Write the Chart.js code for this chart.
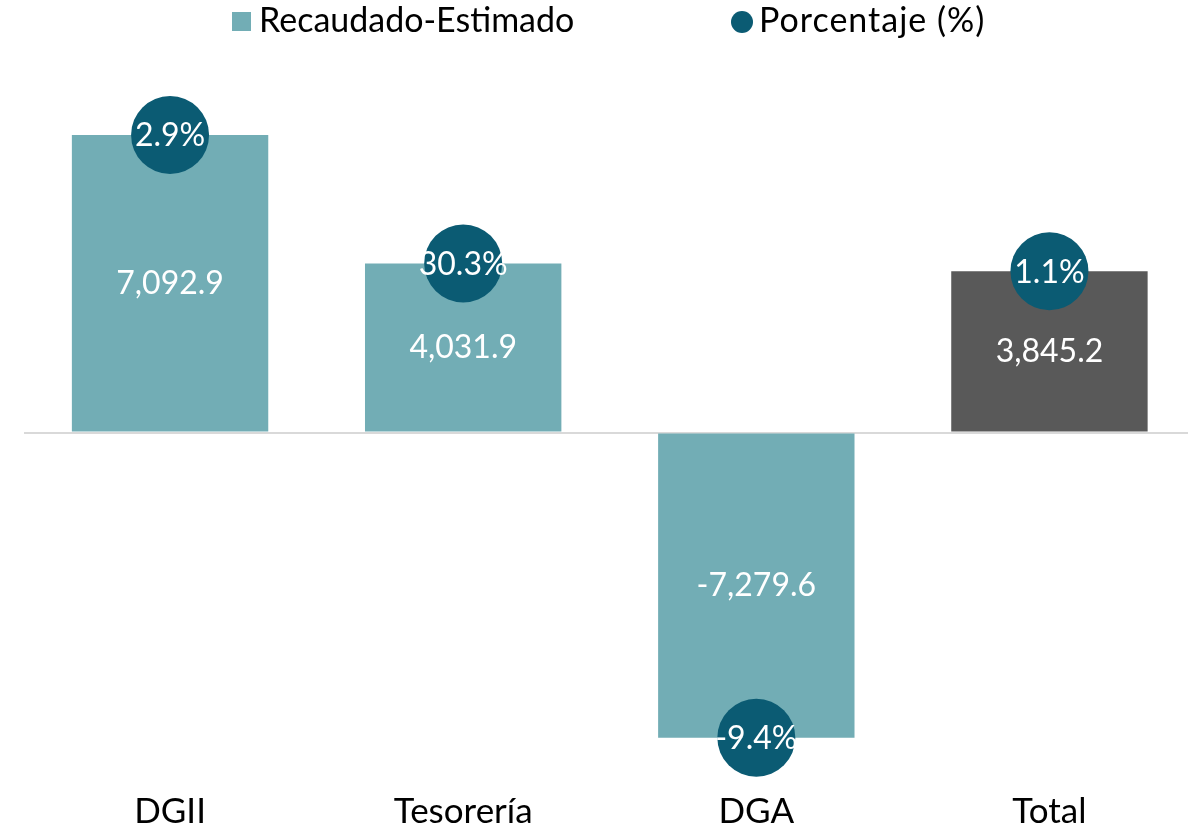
<!DOCTYPE html>
<html>
    <head>
        <title>Recaudado vs Estimado</title>
        <script src="https://cdn.jsdelivr.net/npm/chart.js@4.4.0/dist/chart.umd.min.js"></script>
        <style>
            body { margin: 0; overflow: hidden; background: #fff; }
            .wrap { position: relative; width: 1196px; height: 829px; }
        </style>
    </head>
    <body>
        <div class="wrap">
            <canvas id="chartnya"></canvas>
        </div>
    </body>
    <script>
        // data
        const categories = ['DGII', 'Tesorería', 'DGA', 'Total'];
        const diferencias = [7092.9, 4031.9, -7279.6, 3845.2];
        const porcentajes = [2.9, 30.3, -9.4, 1.1];
        const seriesNames = ['Recaudado-Estimado', 'Porcentaje (%)'];

        const barColor = '#72adb5';
        const totalColor = '#595959';
        const dotColor = '#0b5b73';
        const fontFam = 'Lato, "Open Sans", sans-serif';

        function fmt(v) {
            return v.toLocaleString('en-US', {minimumFractionDigits: 1, maximumFractionDigits: 1});
        }

        // draw values on bars and circles, plus the legend
        const labelPlugin = {
            id: 'labelPlugin',
            afterDatasetsDraw(chart) {
                const ctx = chart.ctx;
                ctx.save();
                ctx.fillStyle = '#fff';
                ctx.textAlign = 'center';
                ctx.textBaseline = 'middle';
                ctx.font = '32px ' + fontFam;
                const bars = chart.getDatasetMeta(0).data;
                bars.forEach((bar, i) => {
                    const mid = (bar.y + bar.base) / 2;
                    ctx.fillText(fmt(diferencias[i]), bar.x, mid);
                });
                const dots = chart.getDatasetMeta(1).data;
                dots.forEach((pt, i) => {
                    ctx.fillText(porcentajes[i].toFixed(1) + '%', pt.x, pt.y + 1);
                });
                ctx.restore();
            },
            afterDraw(chart) {
                const ctx = chart.ctx;
                ctx.save();
                ctx.font = '34px ' + fontFam;
                ctx.textBaseline = 'middle';
                ctx.textAlign = 'left';
                // square item
                ctx.fillStyle = barColor;
                ctx.fillRect(232, 12, 19, 19);
                ctx.fillStyle = '#000';
                ctx.fillText(seriesNames[0], 259, 21);
                // circle item
                ctx.fillStyle = dotColor;
                ctx.beginPath();
                ctx.arc(742, 22, 11, 0, Math.PI * 2);
                ctx.fill();
                ctx.fillStyle = '#000';
                ctx.letterSpacing = '1px';
                ctx.fillText(seriesNames[1], 759, 21);
                ctx.restore();
            }
        };

        const ctx1 = document.getElementById('chartnya').getContext('2d');
        const chartnya = new Chart(ctx1, {
            type: 'bar',
            data: {
                labels: categories,
                datasets: [{
                    label: seriesNames[0],
                    data: diferencias,
                    backgroundColor: diferencias.map((v, i) => i === categories.length - 1 ? totalColor : barColor),
                    categoryPercentage: 1,
                    barPercentage: 0.67,
                    order: 1
                }, {
                    type: 'line',
                    label: seriesNames[1],
                    data: diferencias,
                    showLine: false,
                    clip: false,
                    pointRadius: 39,
                    pointHoverRadius: 39,
                    pointBackgroundColor: dotColor,
                    pointBorderWidth: 0,
                    backgroundColor: dotColor,
                    order: 0
                }]
            },
            options: {
                responsive: true,
                maintainAspectRatio: false,
                animation: false,
                layout: {autoPadding: false, padding: {left: 23.5, right: 0, top: 97, bottom: -19}},
                plugins: {
                    legend: {display: false},
                    tooltip: {enabled: false}
                },
                scales: {
                    x: {
                        grid: {display: false},
                        border: {display: false},
                        ticks: {color: '#000', font: {family: fontFam, size: 35}, padding: 15}
                    },
                    y: {
                        min: -8000,
                        max: 8000,
                        afterFit(scale) { scale.width = 0; },
                        ticks: {display: false, stepSize: 1000},
                        border: {display: false},
                        grid: {
                            drawTicks: false,
                            lineWidth: 2,
                            color: (c) => c.tick && c.tick.value === 0 ? '#d9d9d9' : 'rgba(0,0,0,0)'
                        }
                    }
                }
            },
            plugins: [labelPlugin]
        });
    </script>
</html>
